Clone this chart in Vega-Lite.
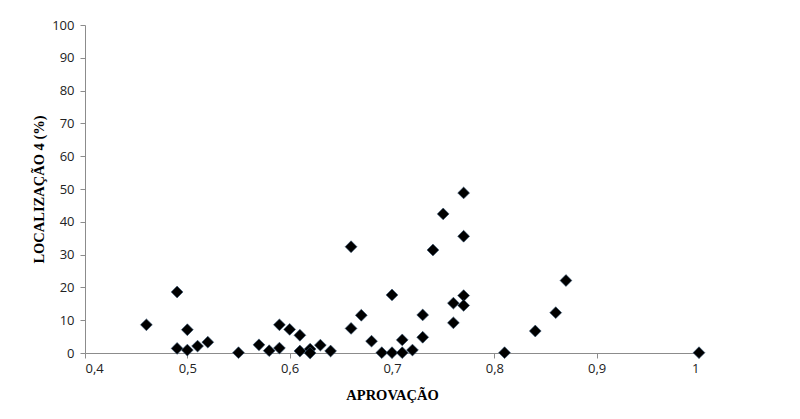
{
  "$schema": "https://vega.github.io/schema/vega-lite/v6.json",
  "width": 614,
  "height": 328,
  "autosize": "none",
  "padding": {"left": 85, "top": 25, "right": 101, "bottom": 66},
  "background": "white",
  "config": {"view": {"stroke": null}},
  "data": {
    "values": [
      {"aprovacao": 0.46, "loc4": 8.6},
      {"aprovacao": 0.49, "loc4": 18.6},
      {"aprovacao": 0.49, "loc4": 1.4},
      {"aprovacao": 0.50, "loc4": 7.1},
      {"aprovacao": 0.50, "loc4": 0.9},
      {"aprovacao": 0.51, "loc4": 2.1},
      {"aprovacao": 0.52, "loc4": 3.3},
      {"aprovacao": 0.55, "loc4": 0.1},
      {"aprovacao": 0.57, "loc4": 2.5},
      {"aprovacao": 0.58, "loc4": 0.7},
      {"aprovacao": 0.59, "loc4": 8.6},
      {"aprovacao": 0.59, "loc4": 1.5},
      {"aprovacao": 0.60, "loc4": 7.2},
      {"aprovacao": 0.61, "loc4": 5.4},
      {"aprovacao": 0.61, "loc4": 0.6},
      {"aprovacao": 0.62, "loc4": 1.2},
      {"aprovacao": 0.62, "loc4": 0.0},
      {"aprovacao": 0.63, "loc4": 2.4},
      {"aprovacao": 0.64, "loc4": 0.6},
      {"aprovacao": 0.66, "loc4": 32.4},
      {"aprovacao": 0.66, "loc4": 7.5},
      {"aprovacao": 0.67, "loc4": 11.5},
      {"aprovacao": 0.68, "loc4": 3.6},
      {"aprovacao": 0.69, "loc4": 0.1},
      {"aprovacao": 0.70, "loc4": 17.7},
      {"aprovacao": 0.70, "loc4": 0.1},
      {"aprovacao": 0.71, "loc4": 4.0},
      {"aprovacao": 0.71, "loc4": 0.1},
      {"aprovacao": 0.72, "loc4": 0.9},
      {"aprovacao": 0.73, "loc4": 11.6},
      {"aprovacao": 0.73, "loc4": 4.8},
      {"aprovacao": 0.74, "loc4": 31.4},
      {"aprovacao": 0.75, "loc4": 42.4},
      {"aprovacao": 0.76, "loc4": 15.2},
      {"aprovacao": 0.76, "loc4": 9.2},
      {"aprovacao": 0.77, "loc4": 48.8},
      {"aprovacao": 0.77, "loc4": 35.6},
      {"aprovacao": 0.77, "loc4": 17.5},
      {"aprovacao": 0.77, "loc4": 14.5},
      {"aprovacao": 0.81, "loc4": 0.1},
      {"aprovacao": 0.84, "loc4": 6.7},
      {"aprovacao": 0.86, "loc4": 12.3},
      {"aprovacao": 0.87, "loc4": 22.1},
      {"aprovacao": 1.0, "loc4": 0.1}
    ]
  },
  "mark": {"type": "point", "shape": "diamond", "filled": true, "size": 140, "fill": "#000000", "stroke": "#2f4f6f", "strokeWidth": 0.6, "opacity": 1, "clip": false},
  "encoding": {
    "x": {
      "field": "aprovacao",
      "type": "quantitative",
      "scale": {"domain": [0.4, 1], "nice": false, "zero": false},
      "axis": {
        "title": "APROVAÇÃO",
        "titleFont": "Liberation Serif",
        "titleFontSize": 14.5,
        "titleFontWeight": "bold",
        "titleColor": "#000000",
        "titlePadding": 13,
        "values": [0.4, 0.5, 0.6, 0.7, 0.8, 0.9, 1],
        "labelExpr": "replace(format(datum.value, '.1~f'), '.', ',')",
        "labelFont": "Open Sans",
        "labelFontSize": 13,
        "labelColor": "#222222",
        "labelPadding": 4,
        "grid": false,
        "domainColor": "#8c8c8c",
        "tickColor": "#8c8c8c",
        "tickSize": 5
      }
    },
    "y": {
      "field": "loc4",
      "type": "quantitative",
      "scale": {"domain": [0, 100], "nice": false},
      "axis": {
        "title": "LOCALIZAÇÃO 4 (%)",
        "titleFont": "Liberation Serif",
        "titleFontSize": 14.5,
        "titleFontWeight": "bold",
        "titleColor": "#000000",
        "titlePadding": 5,
        "values": [0, 10, 20, 30, 40, 50, 60, 70, 80, 90, 100],
        "labelFont": "Open Sans",
        "labelFontSize": 13,
        "labelColor": "#222222",
        "labelPadding": 6,
        "grid": false,
        "domainColor": "#8c8c8c",
        "tickColor": "#8c8c8c",
        "tickSize": 5
      }
    }
  }
}
